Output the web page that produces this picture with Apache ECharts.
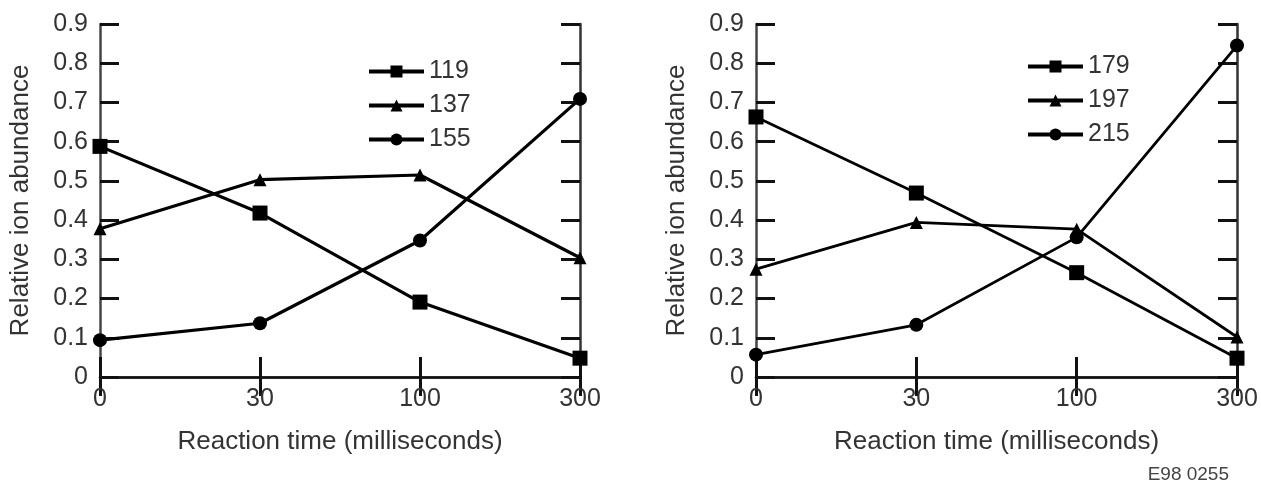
<!DOCTYPE html>
<html>
<head>
<meta charset="utf-8">
<script src="https://cdn.jsdelivr.net/npm/echarts@6/dist/echarts.min.js"></script>
<style>
  html, body { margin: 0; padding: 0; background: #fff; }
  #chart { width: 1261px; height: 486px; }
</style>
</head>
<body>
<div id="chart"></div>
<script>
// ---- data ----
const categories = ['0', '30', '100', '300'];
const yTickLabels = ['0', '0.1', '0.2', '0.3', '0.4', '0.5', '0.6', '0.7', '0.8', '0.9'];
const xTitle = 'Reaction time (milliseconds)';
const yTitle = 'Relative ion abundance';

const leftNames = ['119', '137', '155'];
const left119 = [0.588, 0.418, 0.191, 0.048];
const left137 = [0.378, 0.503, 0.515, 0.304];
const left155 = [0.094, 0.137, 0.348, 0.709];

const rightNames = ['179', '197', '215'];
const right179 = [0.663, 0.469, 0.266, 0.048];
const right197 = [0.275, 0.394, 0.377, 0.102];
const right215 = [0.057, 0.133, 0.356, 0.845];

const figureCode = 'E98 0255';

// ---- chart ----
const FONT = 'Liberation Sans, Arial, Helvetica, sans-serif';
const chart = echarts.init(document.getElementById('chart'), null, { renderer: 'canvas' });

const grids = [
  { left: 100, top: 24, width: 480, height: 353 },
  { left: 756, top: 24, width: 481, height: 353 }
];

const xAxes = [];
const yAxes = [];
grids.forEach((g, i) => {
  xAxes.push({
    type: 'category', gridIndex: i, data: categories, boundaryGap: false, position: 'bottom',
    axisLine: { lineStyle: { color: '#444', width: 2.5 } },
    axisTick: { inside: true, length: 20, lineStyle: { color: '#111', width: 3 } },
    axisLabel: { color: '#333', fontSize: 25, fontFamily: FONT, margin: 10 },
    name: xTitle, nameLocation: 'middle', nameGap: 52,
    nameTextStyle: { color: '#333', fontSize: 26, fontFamily: FONT }
  });
  xAxes.push({
    type: 'category', gridIndex: i, data: categories, boundaryGap: false, position: 'top',
    axisLine: { lineStyle: { color: '#111', width: 2.5 } },
    axisTick: { inside: true, length: 19, lineStyle: { color: '#111', width: 3 } },
    axisLabel: { show: false }
  });
  yAxes.push({
    type: 'value', gridIndex: i, min: 0, max: 0.9, interval: 0.1, position: 'left',
    splitLine: { show: false },
    axisLine: { show: true, lineStyle: { color: '#444', width: 2.5 } },
    axisTick: { show: true, inside: true, length: 19, lineStyle: { color: '#111', width: 3 } },
    axisLabel: {
      color: '#333', fontSize: 25, fontFamily: FONT, margin: 12,
      formatter: (v) => yTickLabels[Math.round(v * 10)]
    },
    name: yTitle, nameLocation: 'middle', nameGap: 66, nameRotate: 90,
    nameTextStyle: { color: '#333', fontSize: 26, fontFamily: FONT }
  });
  yAxes.push({
    type: 'value', gridIndex: i, min: 0, max: 0.9, interval: 0.1, position: 'right',
    splitLine: { show: false },
    axisLine: { show: true, lineStyle: { color: '#333', width: 2.5 } },
    axisTick: { show: true, inside: true, length: 19, lineStyle: { color: '#111', width: 3 } },
    axisLabel: { show: false }
  });
});

function mkSeries(name, data, symbol, size, gi, lw) {
  return {
    type: 'line', name, data,
    xAxisIndex: gi * 2, yAxisIndex: gi * 2,
    symbol, symbolSize: size, showSymbol: true,
    lineStyle: { color: '#000', width: lw },
    itemStyle: { color: '#000' },
    emphasis: { disabled: true },
    animation: false, z: 3
  };
}

const series = [
  mkSeries(leftNames[0], left119, 'rect', 15, 0, 3.2),
  mkSeries(leftNames[1], left137, 'triangle', 13, 0, 3.2),
  mkSeries(leftNames[2], left155, 'circle', 14, 0, 3.2),
  mkSeries(rightNames[0], right179, 'rect', 15, 1, 2.8),
  mkSeries(rightNames[1], right197, 'triangle', 13, 1, 2.8),
  mkSeries(rightNames[2], right215, 'circle', 14, 1, 2.8)
];

const legendBase = {
  orient: 'vertical', itemWidth: 55, itemHeight: 15, itemGap: 9, padding: 0,
  lineStyle: { width: 4, color: '#000' },
  textStyle: { color: '#333', fontSize: 25, fontFamily: FONT },
  selectedMode: false
};

chart.setOption({
  animation: false,
  backgroundColor: '#fff',
  grid: grids,
  xAxis: xAxes,
  yAxis: yAxes,
  legend: [
    Object.assign({}, legendBase, { data: leftNames, left: 367, top: 59 }),
    Object.assign({}, legendBase, { data: rightNames, left: 1026, top: 54 })
  ],
  graphic: [{
    type: 'text', right: 32, top: 465,
    style: { text: figureCode, fill: '#444', fontSize: 19, fontFamily: FONT }
  }],
  series
});
</script>
</body>
</html>
